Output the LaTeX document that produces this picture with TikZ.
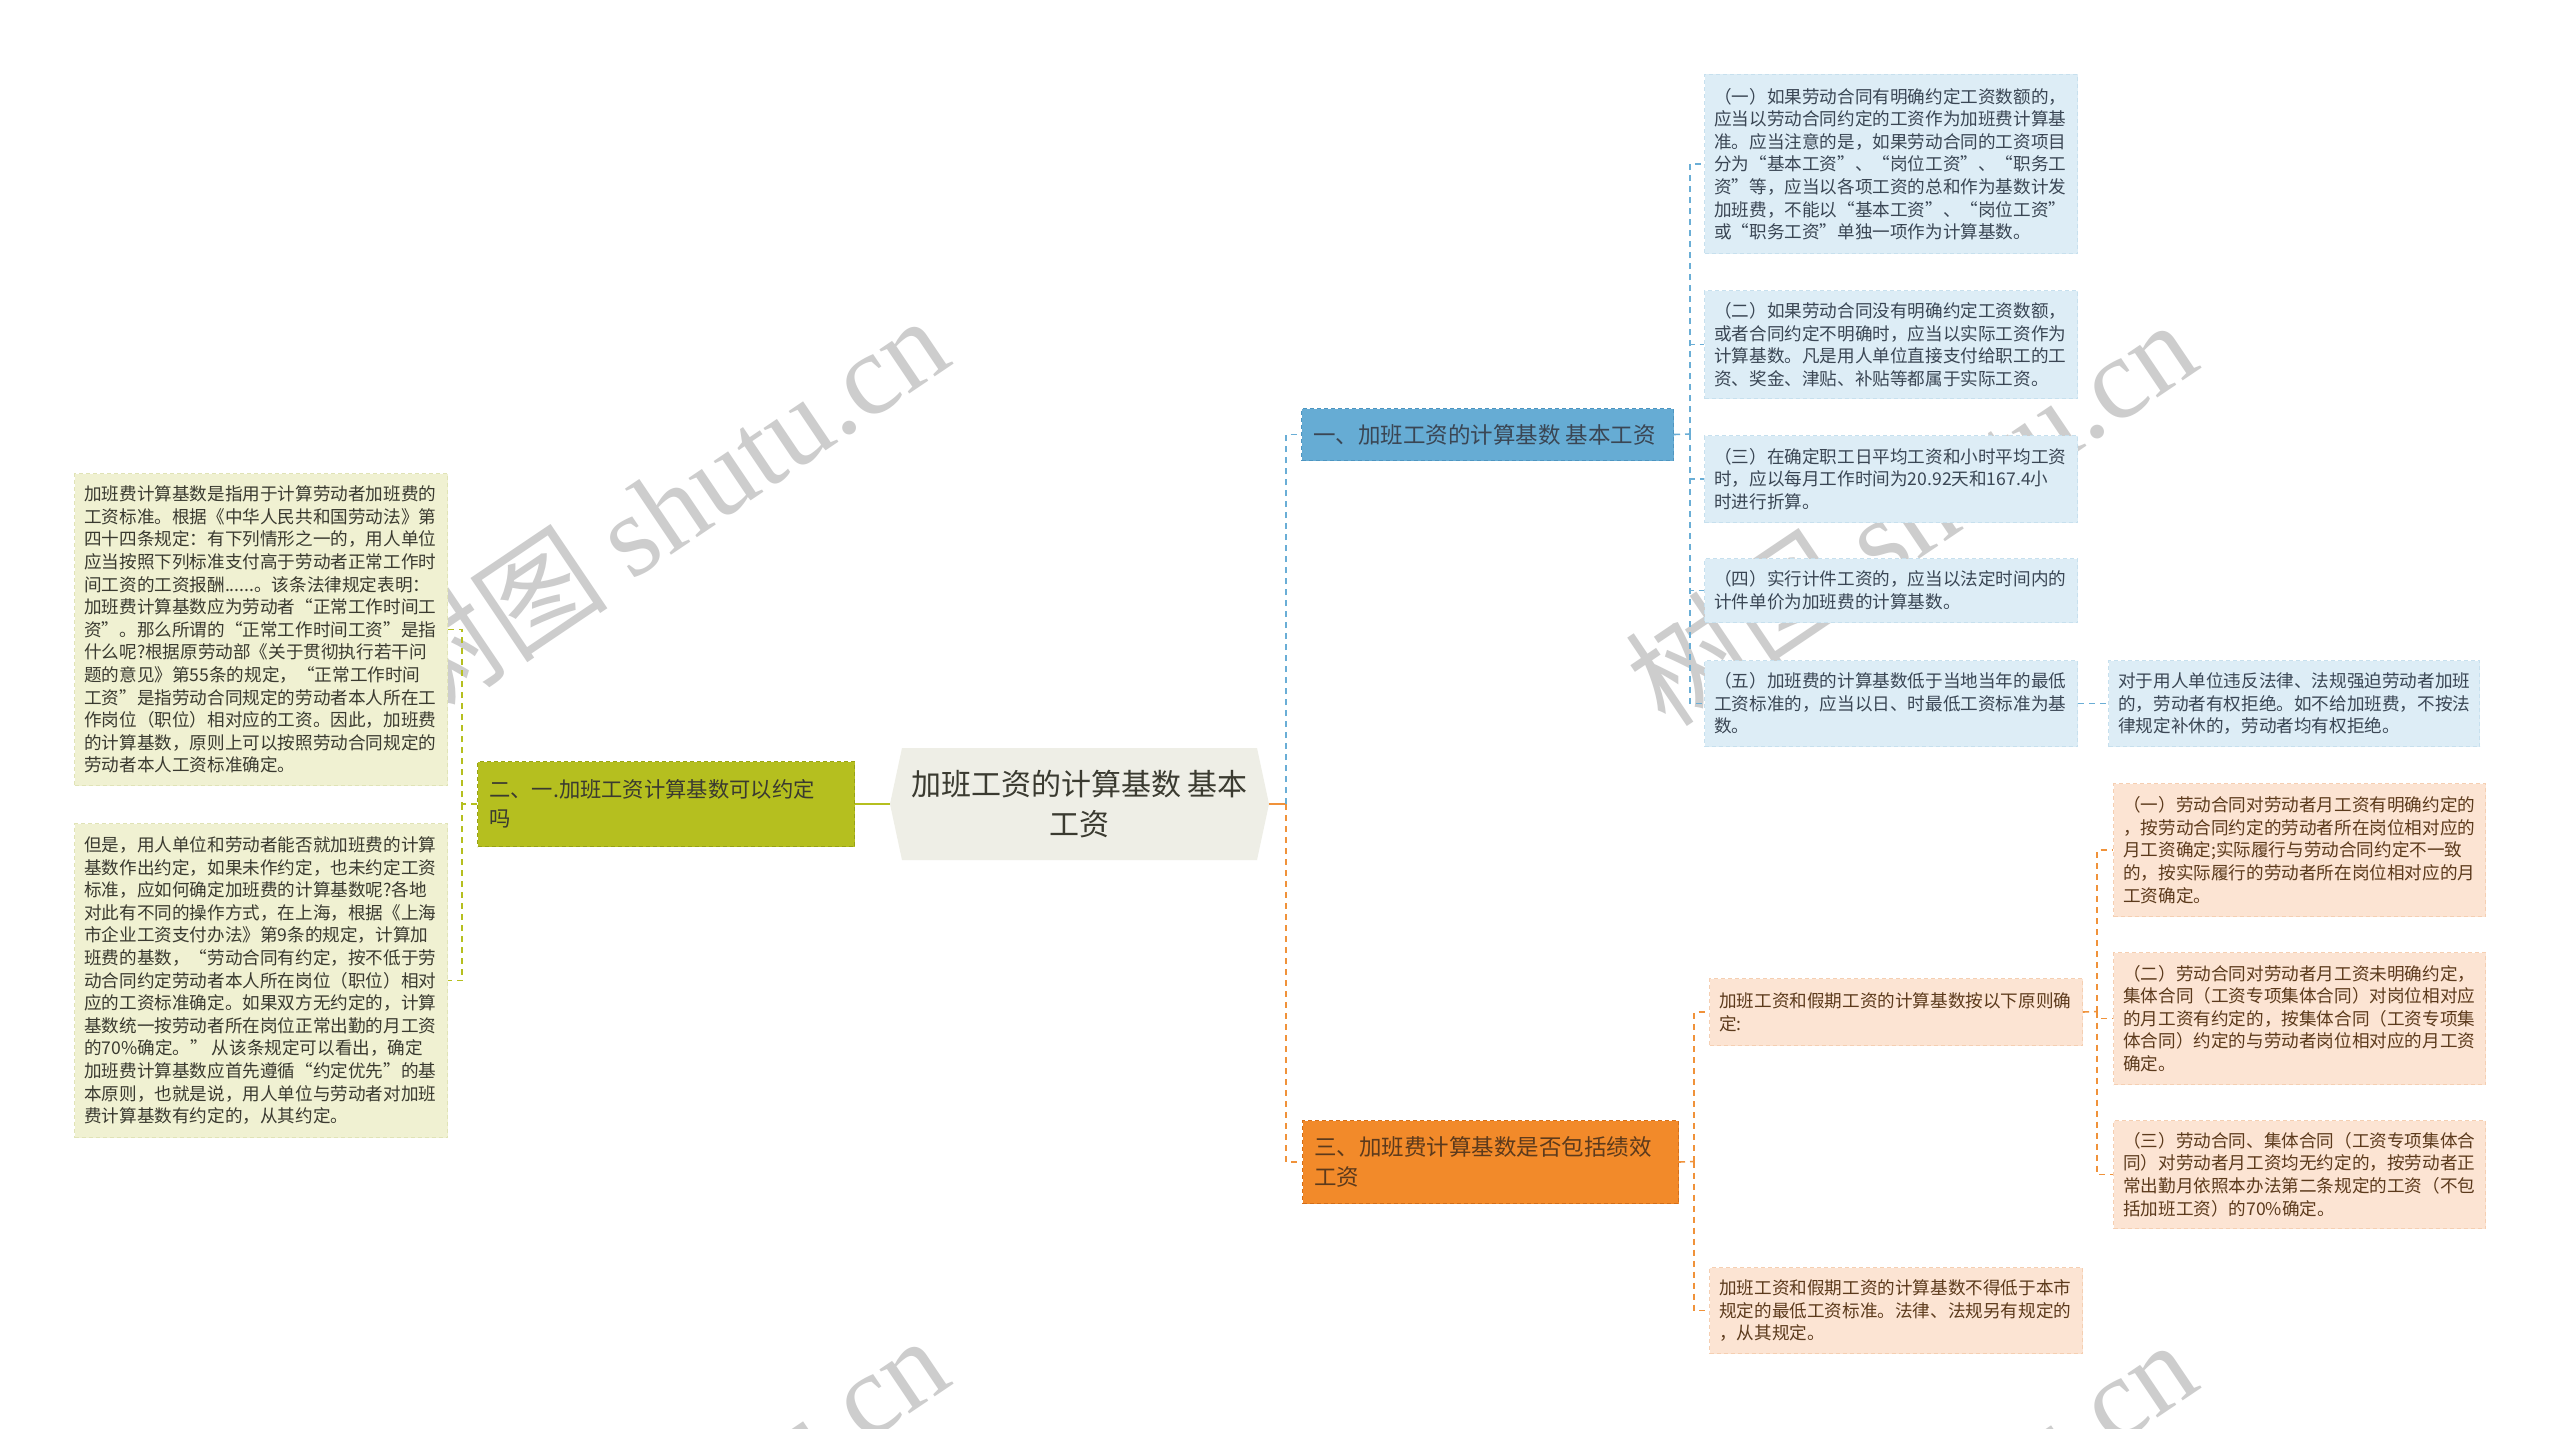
\documentclass[tikz,border=0pt]{standalone}
\usepackage{fontspec}
\setmainfont{Noto Sans CJK SC}
\newfontfamily\wmserif{Liberation Serif}
\definecolor{cfill}{HTML}{EEEEE6}
\definecolor{olv}{HTML}{B5BF1F}
\definecolor{olvd}{HTML}{98A214}
\definecolor{olvl}{HTML}{F0F1D2}
\definecolor{olvlb}{HTML}{E0E3B6}
\definecolor{blu}{HTML}{66ACD4}
\definecolor{blud}{HTML}{4E95C0}
\definecolor{blul}{HTML}{DDEDF6}
\definecolor{blulb}{HTML}{C7E0EE}
\definecolor{bluline}{HTML}{6AAED6}
\definecolor{org}{HTML}{F28A2A}
\definecolor{orgd}{HTML}{D46E18}
\definecolor{orgl}{HTML}{FCE4D3}
\definecolor{orglb}{HTML}{F5CFB2}
\definecolor{orgline}{HTML}{F0923A}
\definecolor{txtb}{HTML}{3A4654}
\definecolor{txto}{HTML}{5C3A1C}
\definecolor{txtg}{HTML}{3A3A30}
\definecolor{wm}{HTML}{CDCDCD}
\begin{document}
\begin{tikzpicture}[x=1pt,y=-1pt,
  box/.style={anchor=north west, inner sep=0pt, line width=1pt, dash pattern=on 4pt off 3pt},
  lbox/.style={box, fill=olvl, draw=olvlb},
  bbox/.style={box, fill=blul, draw=blulb},
  obox/.style={box, fill=orgl, draw=orglb},
  txt/.style={anchor=west, inner sep=0pt, align=left, font=\fontsize{17.6}{22.6}\selectfont},
  mtxt/.style={anchor=west, inner sep=0pt, align=left, font=\fontsize{22.5}{29.5}\selectfont},
  conn/.style={line width=1.6pt, dash pattern=on 6pt off 5pt},
  wmark/.style={rotate=34, inner sep=0pt, text=wm}
]
\useasboundingbox (0,0) rectangle (2560,1429);
\fill[white] (0,0) rectangle (2560,1429);

% watermarks
\begin{scope}
\clip (0,0) rectangle (2560,1429);
\node[wmark] (w1) at (662,508) {\fontsize{116}{116}\selectfont 树图 {\wmserif shutu.cn}};
\node[wmark] (w2) at (1910,512) {\fontsize{116}{116}\selectfont 树图 {\wmserif shutu.cn}};
\node[wmark] (w3) at (662,1528) {\fontsize{116}{116}\selectfont 树图 {\wmserif shutu.cn}};
\node[wmark] (w4) at (1910,1532) {\fontsize{116}{116}\selectfont 树图 {\wmserif shutu.cn}};
\end{scope}

% center node
\fill[cfill] (890,804) -- (902,748) -- (1257,748) -- (1269,804) -- (1257,860) -- (902,860) -- cycle;
\node[minimum width=379pt, minimum height=112pt, inner sep=0pt] (C) at (1079.5,804) {};
\node[align=center, inner sep=0pt, text=txtg, font=\fontsize{30}{40}\selectfont] (Ct) at (C.center) {加班工资的计算基数 基本\\工资};

% level-1 nodes
\node[box, fill=olv, draw=olvd, minimum width=377pt, minimum height=85pt] (ON) at (477,761) {};
\node[mtxt, text=txtg, font=\fontsize{21.3}{29.5}\selectfont] (ONt) at ([xshift=12pt]ON.west) {二、一.加班工资计算基数可以约定\\吗};

\node[box, fill=blu, draw=blud, minimum width=372pt, minimum height=52pt] (B) at (1301,408) {};
\node[mtxt, text=txtb] (Bt) at ([xshift=12pt]B.west) {一、加班工资的计算基数 基本工资};

\node[box, fill=org, draw=orgd, minimum width=376pt, minimum height=83pt] (O) at (1302,1120) {};
\node[mtxt, text=txto] (Ot) at ([xshift=12pt]O.west) {三、加班费计算基数是否包括绩效\\工资};

% left leaves
\node[lbox, minimum width=373pt, minimum height=312pt] (L1) at (74,473) {};
\node[txt, text=txtg] (L1t) at ([xshift=10pt]L1.west) {加班费计算基数是指用于计算劳动者加班费的\\工资标准。根据《中华人民共和国劳动法》第\\四十四条规定：有下列情形之一的，用人单位\\应当按照下列标准支付高于劳动者正常工作时\\间工资的工资报酬......。该条法律规定表明：\\加班费计算基数应为劳动者“正常工作时间工\\资”。那么所谓的“正常工作时间工资”是指\\什么呢?根据原劳动部《关于贯彻执行若干问\\题的意见》第55条的规定，“正常工作时间\\工资”是指劳动合同规定的劳动者本人所在工\\作岗位（职位）相对应的工资。因此，加班费\\的计算基数，原则上可以按照劳动合同规定的\\劳动者本人工资标准确定。};

\node[lbox, minimum width=373pt, minimum height=314pt] (L2) at (74,823) {};
\node[txt, text=txtg] (L2t) at ([xshift=10pt]L2.west) {但是，用人单位和劳动者能否就加班费的计算\\基数作出约定，如果未作约定，也未约定工资\\标准，应如何确定加班费的计算基数呢?各地\\对此有不同的操作方式，在上海，根据《上海\\市企业工资支付办法》第9条的规定，计算加\\班费的基数，“劳动合同有约定，按不低于劳\\动合同约定劳动者本人所在岗位（职位）相对\\应的工资标准确定。如果双方无约定的，计算\\基数统一按劳动者所在岗位正常出勤的月工资\\的70\%确定。”\ 从该条规定可以看出，确定\\加班费计算基数应首先遵循“约定优先”的基\\本原则，也就是说，用人单位与劳动者对加班\\费计算基数有约定的，从其约定。};

% blue leaves
\node[bbox, minimum width=373pt, minimum height=179pt] (b1) at (1704,74) {};
\node[txt, text=txtb] (b1t) at ([xshift=10pt]b1.west) {（一）如果劳动合同有明确约定工资数额的，\\应当以劳动合同约定的工资作为加班费计算基\\准。应当注意的是，如果劳动合同的工资项目\\分为“基本工资”、“岗位工资”、“职务工\\资”等，应当以各项工资的总和作为基数计发\\加班费，不能以“基本工资”、“岗位工资”\\或“职务工资”单独一项作为计算基数。};

\node[bbox, minimum width=373pt, minimum height=108pt] (b2) at (1704,290) {};
\node[txt, text=txtb] (b2t) at ([xshift=10pt]b2.west) {（二）如果劳动合同没有明确约定工资数额，\\或者合同约定不明确时，应当以实际工资作为\\计算基数。凡是用人单位直接支付给职工的工\\资、奖金、津贴、补贴等都属于实际工资。};

\node[bbox, minimum width=373pt, minimum height=87pt] (b3) at (1704,435) {};
\node[txt, text=txtb] (b3t) at ([xshift=10pt]b3.west) {（三）在确定职工日平均工资和小时平均工资\\时，应以每月工作时间为20.92天和167.4小\\时进行折算。};

\node[bbox, minimum width=373pt, minimum height=64pt] (b4) at (1704,558) {};
\node[txt, text=txtb] (b4t) at ([xshift=10pt]b4.west) {（四）实行计件工资的，应当以法定时间内的\\计件单价为加班费的计算基数。};

\node[bbox, minimum width=373pt, minimum height=86pt] (b5) at (1704,660) {};
\node[txt, text=txtb] (b5t) at ([xshift=10pt]b5.west) {（五）加班费的计算基数低于当地当年的最低\\工资标准的，应当以日、时最低工资标准为基\\数。};

\node[bbox, minimum width=371pt, minimum height=86pt] (b6) at (2108,660) {};
\node[txt, text=txtb] (b6t) at ([xshift=10pt]b6.west) {对于用人单位违反法律、法规强迫劳动者加班\\的，劳动者有权拒绝。如不给加班费，不按法\\律规定补休的，劳动者均有权拒绝。};

% orange leaves
\node[obox, minimum width=373pt, minimum height=67pt] (o1) at (1709,978) {};
\node[txt, text=txto] (o1t) at ([xshift=10pt]o1.west) {加班工资和假期工资的计算基数按以下原则确\\定:};

\node[obox, minimum width=373pt, minimum height=86pt] (o2) at (1709,1267) {};
\node[txt, text=txto] (o2t) at ([xshift=10pt]o2.west) {加班工资和假期工资的计算基数不得低于本市\\规定的最低工资标准。法律、法规另有规定的\\，从其规定。};

\node[obox, minimum width=372pt, minimum height=133pt] (o3) at (2113,783) {};
\node[txt, text=txto] (o3t) at ([xshift=10pt]o3.west) {（一）劳动合同对劳动者月工资有明确约定的\\，按劳动合同约定的劳动者所在岗位相对应的\\月工资确定;实际履行与劳动合同约定不一致\\的，按实际履行的劳动者所在岗位相对应的月\\工资确定。};

\node[obox, minimum width=372pt, minimum height=132pt] (o4) at (2113,952) {};
\node[txt, text=txto] (o4t) at ([xshift=10pt]o4.west) {（二）劳动合同对劳动者月工资未明确约定，\\集体合同（工资专项集体合同）对岗位相对应\\的月工资有约定的，按集体合同（工资专项集\\体合同）约定的与劳动者岗位相对应的月工资\\确定。};

\node[obox, minimum width=372pt, minimum height=108pt] (o5) at (2113,1120) {};
\node[txt, text=txto] (o5t) at ([xshift=10pt]o5.west) {（三）劳动合同、集体合同（工资专项集体合\\同）对劳动者月工资均无约定的，按劳动者正\\常出勤月依照本办法第二条规定的工资（不包\\括加班工资）的70\%确定。};

% connectors
\coordinate (eL) at (462,804);
\draw[olv, line width=2pt] (C.west) -- (ON.east);
\draw[olv, conn] (ON.west) -- (eL) |- (L1.east);
\draw[olv, conn] (eL) |- (L2.east);

\coordinate (eR) at (1286,804);
\draw[orgline, line width=1.8pt] (C.east) -- (eR);
\draw[bluline, conn] (eR) |- (B.west);
\draw[orgline, conn] (eR) |- (O.west);

\coordinate (eB) at (1690,434);
\draw[bluline, conn] (B.east) -- (eB);
\draw[bluline, conn] (eB) |- (b1.west);
\draw[bluline, conn] (eB) |- (b2.west);
\draw[bluline, conn] (eB) |- (b3.west);
\draw[bluline, conn] (eB) |- (b4.west);
\draw[bluline, conn] (eB) |- (b5.west);
\draw[bluline, conn] (b5.east) -- (b6.west);

\coordinate (eO) at (1694,1161.5);
\draw[orgline, conn] (O.east) -- (eO);
\draw[orgline, conn] (eO) |- (o1.west);
\draw[orgline, conn] (eO) |- (o2.west);

\coordinate (eO2) at (2097,1011.5);
\draw[orgline, conn] (o1.east) -- (eO2);
\draw[orgline, conn] (eO2) |- (o3.west);
\draw[orgline, conn] (eO2) |- (o4.west);
\draw[orgline, conn] (eO2) |- (o5.west);
\end{tikzpicture}
\end{document}
